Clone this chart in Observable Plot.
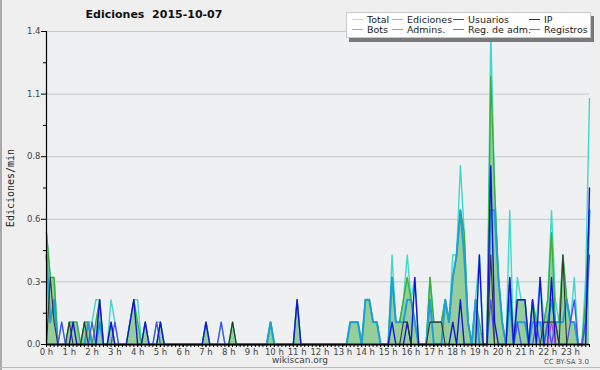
<!DOCTYPE html>
<html><head><meta charset="utf-8">
<script src="https://cdn.jsdelivr.net/npm/d3@7"></script>
<script src="https://cdn.jsdelivr.net/npm/@observablehq/plot@0.6"></script>
<style>
html,body{margin:0;padding:0;background:#efefef;}
#wrap{position:relative;width:600px;height:370px;overflow:hidden;background:#efefef;font-family:"DejaVu Sans",sans-serif;}
#chart{position:absolute;left:0;top:0;}
#title{position:absolute;left:0;width:308px;top:8px;text-align:center;font-weight:bold;font-size:11px;color:#111;}
#ylabel{position:absolute;left:10px;top:188px;transform:translate(-50%,-50%) rotate(-90deg);font-family:"DejaVu Sans Mono",monospace;font-size:10px;color:#222;white-space:nowrap;}
#legend{position:absolute;left:346px;top:12px;width:243px;height:24px;background:#fff;border:1px solid #c8c8c8;box-shadow:3px 4px 0 #7a7a7a;}
#legend .item{position:absolute;font-size:9.5px;line-height:10px;color:#222;white-space:nowrap;}
#legend .sw{display:inline-block;width:11px;height:0;border-top:1.5px solid;vertical-align:middle;margin-right:4px;position:relative;top:-1px;}
#foot{position:absolute;left:0;width:600px;top:355px;text-align:center;font-size:9px;color:#444;}
#cc{position:absolute;right:11px;top:358px;font-size:7px;color:#555;}
#edgeL{position:absolute;left:0;top:0;width:2px;height:370px;background:#aaa;}
#edgeB{position:absolute;left:0;top:367px;width:600px;height:1px;background:#bbb;}
</style></head>
<body><div id="wrap"><div id="chart"></div></div>
<script>
// ---- data: rate per minute in 10-minute bins, 6 bins per hour (0 h .. 23 h 50) ----
const binsPerHour = 6;
const hourLabels = ["0 h","1 h","2 h","3 h","4 h","5 h","6 h","7 h","8 h","9 h","10 h","11 h","12 h","13 h","14 h","15 h","16 h","17 h","18 h","19 h","20 h","21 h","22 h","23 h"];
const yTicks = [0, 0.28, 0.56, 0.84, 1.12, 1.4];
const yTickLabels = ["0.0","0.3","0.6","0.8","1.1","1.4"];
const yMinorTicks = [0.14, 0.42, 0.7, 0.98, 1.26];

const totalVals = [
  0.5,0.3,0.3,0,0.1,0,   0.1,0.1,0.1,0,0.1,0.1,   0.1,0.2,0.2,0,0,0.2,   0.1,0,0,0,0.1,0.2,
  0.2,0,0.1,0,0,0.1,     0.1,0,0,0,0,0,           0,0,0,0,0,0,           0.1,0,0,0,0.1,0,
  0,0.1,0,0,0,0,         0,0,0,0,0,0.1,           0,0,0,0,0,0,           0.2,0,0,0,0,0,
  0,0,0,0,0,0,           0,0,0.1,0.1,0.1,0,       0.2,0.2,0.1,0.1,0,0,   0,0.4,0.1,0.1,0.2,0.4,
  0.2,0.3,0,0,0,0.3,     0.1,0.1,0.1,0.2,0.1,0.4, 0.4,0.8,0.5,0.1,0,0.2, 0.4,0,0,1.4,0.7,0.3,
  0.1,0,0.6,0,0.3,0.2,   0.2,0,0.2,0.1,0.3,0.1,   0.2,0.6,0.2,0.1,0.4,0.2, 0.1,0.3,0,0,0.3,1.1
];
const editVals = [
  0.5,0.3,0.3,0,0,0,     0.1,0.1,0.1,0,0.1,0.1,   0,0.1,0.2,0,0,0.1,     0,0,0,0,0.1,0.2,
  0.1,0,0.1,0,0,0,       0.1,0,0,0,0,0,           0,0,0,0,0,0,           0.1,0,0,0,0,0,
  0,0.1,0,0,0,0,         0,0,0,0,0,0.1,           0,0,0,0,0,0,           0.2,0,0,0,0,0,
  0,0,0,0,0,0,           0,0,0.1,0.1,0.1,0,       0.2,0.2,0.1,0.1,0,0,   0,0.3,0.1,0.1,0.2,0.3,
  0.2,0.1,0,0,0,0.3,     0.1,0.1,0.1,0.2,0.1,0.3, 0.4,0.6,0.5,0.1,0,0.2, 0.1,0,0,1.2,0.7,0.3,
  0.1,0,0.3,0,0.2,0.2,   0.2,0,0.2,0.1,0.1,0.1,   0.2,0.5,0.1,0.1,0.4,0.2, 0.1,0.1,0,0,0.2,0.6
];
const adminVals = [
  0.4,0.1,0.2,0,0,0,     0,0,0,0,0,0.1,           0,0,0.1,0,0,0,         0,0,0,0,0,0,
  0,0,0,0,0,0,           0,0,0,0,0,0,             0,0,0,0,0,0,           0,0,0,0,0,0,
  0,0,0,0,0,0,           0,0,0,0,0,0.1,           0,0,0,0,0,0,           0,0,0,0,0,0,
  0,0,0,0,0,0,           0,0,0.1,0.1,0.1,0,       0.2,0.2,0.1,0.1,0,0,   0,0.3,0.1,0.1,0.1,0.2,
  0.2,0.1,0,0,0,0.2,     0,0,0,0.2,0.1,0.3,       0.4,0.6,0.4,0.1,0,0.2, 0,0,0,0.6,0.6,0.3,
  0.1,0,0.2,0,0.1,0.1,   0.1,0,0.1,0.1,0.1,0,     0.1,0.2,0.1,0.1,0.1,0.2, 0.1,0.1,0,0,0.1,0.6
];
const userVals = [
  0,0,0,0,0,0,           0,0.1,0,0,0,0,           0,0,0.2,0,0,0.1,       0,0,0,0,0.1,0.2,
  0,0,0.1,0,0,0,         0.1,0,0,0,0,0,           0,0,0,0,0,0,           0.1,0,0,0,0,0,
  0,0,0,0,0,0,           0,0,0,0,0,0,             0,0,0,0,0,0,           0.2,0,0,0,0,0,
  0,0,0,0,0,0,           0,0,0,0,0,0,             0,0,0,0,0,0,           0,0.1,0,0,0,0.1,
  0,0.3,0,0,0,0,         0,0,0,0,0,0.1,           0,0.2,0,0,0,0,         0.4,0,0,0.8,0.1,0,
  0,0,0.3,0,0.2,0.2,     0.2,0,0.2,0,0.3,0,       0,0.3,0,0,0,0,         0,0,0,0,0,0.7
];
const logVals = [
  0,0,0,0,0.1,0,         0,0,0,0,0,0,             0.1,0,0,0,0,0,         0.1,0,0,0,0,0,
  0,0,0,0,0,0.1,         0,0,0,0,0,0,             0,0,0,0,0,0,           0,0,0,0,0.1,0,
  0,0,0,0,0,0,           0,0,0,0,0,0,             0,0,0,0,0,0,           0,0,0,0,0,0,
  0,0,0,0,0,0,           0,0,0,0,0,0,             0,0,0,0,0,0,           0,0,0,0,0,0,
  0,0,0,0,0,0,           0,0,0,0,0,0,             0,0,0,0,0,0,           0,0,0,0.2,0,0,
  0,0,0,0,0.1,0,         0,0,0,0.1,0,0,           0.1,0,0.1,0,0,0,       0.1,0.2,0,0,0.1,0.4
];
const ipVals = [
  0,0.3,0.1,0,0,0,       0.1,0,0,0,0.1,0,         0,0,0,0,0,0,           0,0,0,0,0,0,
  0,0,0,0,0,0,           0,0,0,0,0,0,             0,0,0,0,0,0,           0,0,0,0,0,0,
  0,0.1,0,0,0,0,         0,0,0,0,0,0,             0,0,0,0,0,0,           0,0,0,0,0,0,
  0,0,0,0,0,0,           0,0,0,0,0,0,             0,0,0,0,0,0,           0,0,0,0,0.1,0.1,
  0,0,0,0,0,0.1,         0.1,0.1,0.1,0,0,0,       0,0,0,0,0,0,           0,0,0,0.4,0,0,
  0,0,0,0,0,0,           0,0,0,0,0,0.1,           0.1,0.1,0.1,0,0.4,0,   0,0,0,0,0,0
];
const regAdmVals = [
  0,0,0,0,0,0, 0,0,0,0,0,0, 0,0,0,0,0,0, 0,0,0,0,0,0,
  0,0,0,0,0,0, 0,0,0,0,0,0, 0,0,0,0,0,0, 0,0,0,0,0,0,
  0,0,0,0,0,0, 0,0,0,0,0,0, 0,0,0,0,0,0, 0,0,0,0,0,0,
  0,0,0,0,0,0, 0,0,0,0,0,0, 0,0,0,0,0,0, 0,0,0,0,0,0,
  0,0,0,0,0,0, 0,0,0,0,0,0, 0,0,0,0,0,0, 0,0,0,0,0,0,
  0,0,0,0,0,0, 0,0,0,0,0,0, 0,0.1,0,0,0,0, 0,0,0,0,0,0
];

const legendNames = ["Total","Ediciones","Usuarios","IP","Bots","Admins.","Reg. de adm.","Registros"];
const legendColors = ["#a6e4e4","#80cc80","#3c3ce0","#333333","#f0a040","#40c4dc","#cc44dd","#7474e8"];

const toRows = arr => arr.map((v, i) => ({t: i / binsPerHour, v}));
const total = toRows(totalVals), edits = toRows(editVals), admins = toRows(adminVals),
      users = toRows(userVals), logs = toRows(logVals), ip = toRows(ipVals), regAdm = toRows(regAdmVals);
const minorX = d3.range(totalVals.length).map(i => i / binsPerHour);
const hours = hourLabels.map((_, h) => h);

const chart = Plot.plot({
  width: 600, height: 370,
  marginLeft: 46, marginRight: 11, marginTop: 31, marginBottom: 26,
  style: {background: "transparent", fontFamily: "DejaVu Sans, sans-serif", fontSize: "8.5px", color: "#444", overflow: "visible"},
  x: {domain: [0, (totalVals.length - 1) / binsPerHour], axis: null, label: null},
  y: {domain: [0, 1.4], axis: null, label: null},
  marks: [
    Plot.frame({fill: "#eef0f2", stroke: null}),
    Plot.gridY(yTicks.slice(1), {stroke: "#c6c6c6", strokeOpacity: 1, strokeWidth: 1}),
    Plot.areaY(edits, {x: "t", y: "v", fill: "#8fcb96", fillOpacity: 0.95}),
    Plot.lineY(total, {x: "t", y: "v", stroke: "#3ed8cc", strokeWidth: 1.4}),
    Plot.lineY(edits, {x: "t", y: "v", stroke: "#38b038", strokeWidth: 1.4}),
    Plot.lineY(admins, {x: "t", y: "v", stroke: "#1f9fd6", strokeWidth: 2}),
    Plot.lineY(logs, {x: "t", y: "v", stroke: "#4c4cf2", strokeWidth: 1.3}),
    Plot.lineY(users, {x: "t", y: "v", stroke: "#1414dc", strokeWidth: 1.4}),
    Plot.lineY(ip, {x: "t", y: "v", stroke: "#333", strokeWidth: 1.1}),
    Plot.lineY(regAdm, {x: "t", y: "v", stroke: "#c040d8", strokeWidth: 1.1}),
    Plot.axisY({ticks: yTicks, label: null, tickSize: 5, tickPadding: 1, stroke: "#000", tickFormat: d => yTickLabels[yTicks.indexOf(d)]}),
    Plot.axisY({ticks: yMinorTicks, label: null, tickSize: 3, stroke: "#000", tickFormat: () => ""}),
    Plot.axisX({ticks: minorX, label: null, tickSize: 3, stroke: "#000", tickFormat: () => ""}),
    Plot.axisX({ticks: hours, label: null, tickSize: 3, tickPadding: 1, stroke: "#000", tickFormat: d => hourLabels[d]}),
    Plot.ruleY([0], {stroke: "#000", strokeWidth: 1.6}),
    Plot.ruleX([0], {stroke: "#000", strokeWidth: 1.2})
  ]
});
document.getElementById("chart").appendChild(chart);

const wrap = document.getElementById("wrap");
function addDiv(id, text) { const d = document.createElement("div"); d.id = id; if (text) d.textContent = text; wrap.appendChild(d); return d; }
addDiv("edgeL"); addDiv("edgeB");
addDiv("title", "Ediciones\u00a0\u00a02015-10-07");
addDiv("ylabel", "Ediciones/min");
addDiv("foot", "wikiscan.org");
addDiv("cc", "CC BY-SA 3.0");
const legend = addDiv("legend");
const colX = [5, 45, 106, 182];
const rowY = [2, 12];
legendNames.forEach((name, k) => {
  const it = document.createElement("div");
  it.className = "item";
  it.style.left = colX[k % 4] + "px";
  it.style.top = rowY[Math.floor(k / 4)] + "px";
  const sw = document.createElement("span");
  sw.className = "sw";
  sw.style.borderTopColor = legendColors[k];
  it.appendChild(sw);
  it.appendChild(document.createTextNode(name));
  legend.appendChild(it);
});
</script></body></html>
